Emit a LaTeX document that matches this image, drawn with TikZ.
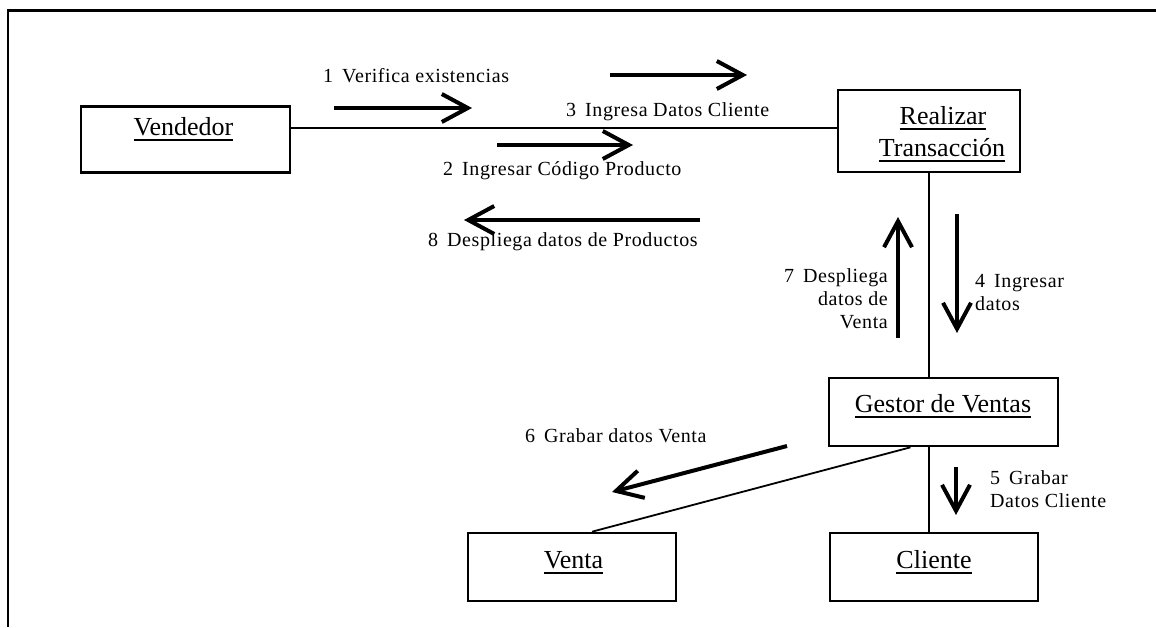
\documentclass[tikz,border=0pt]{standalone}
\usepackage{fontspec}
\setmainfont{Liberation Serif}
\newfontfamily\msgfont[LetterSpace=3]{Liberation Serif}
\usetikzlibrary{arrows.meta}

% underlined object name: a 2pt rule set 4pt below the baseline
\newcommand{\objul}[1]{\setbox0=\hbox{#1}\leavevmode\rlap{\rule[-6pt]{\wd0}{2pt}}\box0}

\tikzset{
  objbox/.style={draw, line width=2.6pt, inner sep=0pt},
  objname/.style={inner sep=0pt, anchor=base, font=\fontsize{26}{30}\selectfont},
  link/.style={line width=2pt},
  msg/.style={line width=4pt, -{Straight Barb[length=26pt, width=28pt]}},
  msgtext/.style={inner sep=0pt, font=\msgfont\fontsize{20}{23}\selectfont},
}

\begin{document}
\begin{tikzpicture}[x=1pt, y=-1pt]
\useasboundingbox (0,0) rectangle (1156,627);

% page frame
\draw[line width=2.5pt] (8,627) -- (8,10.5) -- (1156,10.5);

% objects
\node[objbox, minimum width=209pt, minimum height=66pt] (vend)  at (185.5,139.5) {};
\node[objbox, minimum width=182pt, minimum height=82pt] (real)  at (929,131) {};
\node[objbox, minimum width=229pt, minimum height=68pt] (gest)  at (943.5,412) {};
\node[objbox, minimum width=208pt, minimum height=68pt] (venta) at (572,567) {};
\node[objbox, minimum width=208pt, minimum height=68pt] (cli)   at (934,567) {};

\node[objname] (vendT)  at (183.5,135) {\objul{Vendedor}};
\node[objname] (realT1) at (943,124)   {\objul{Realizar}};
\node[objname] (realT2) at (942,156)   {\objul{Transacción}};
\node[objname] (gestT)  at (943,412)   {\objul{Gestor de Ventas}};
\node[objname] (ventaT) at (573.5,568) {\objul{Venta}};
\node[objname] (cliT)   at (934,568)   {\objul{Cliente}};

% links
\coordinate (rw) at ([yshift=3pt]real.west);
\draw[link] (vend.east |- rw) -- (rw);
\draw[link] (real.south) -- (real.south |- gest.north);
\draw[link] (gest.south -| real.south) -- (cli.north -| real.south);
\draw[line width=1.8pt] ([xshift=-33pt]gest.south) -- ([xshift=20pt]venta.north);

% messages
\coordinate (m1a) at (334,108);  \coordinate (m1b) at (472,108);
\coordinate (m2a) at (497,145);  \coordinate (m2b) at (633,145);
\coordinate (m3a) at (610,75);   \coordinate (m3b) at (747,75);
\coordinate (m4a) at (957,214);  \coordinate (m4b) at (957,333);
\coordinate (m5a) at (956,467);  \coordinate (m5b) at (956,515);
\coordinate (m6a) at (787,446);  \coordinate (m6b) at (612,492);
\coordinate (m7a) at (898,338);  \coordinate (m7b) at (898,217);
\coordinate (m8a) at (700,220);  \coordinate (m8b) at (464,220);

\draw[msg] (m1a) -- (m1b);
\draw[msg] (m2a) -- (m2b);
\draw[msg] (m3a) -- (m3b);
\draw[msg] (m4a) -- (m4b);
\draw[msg] (m5a) -- (m5b);
\draw[msg] (m6a) -- (m6b);
\draw[msg] (m7a) -- (m7b);
\draw[msg] (m8a) -- (m8b);

% message labels (multi-line ones are anchored on their last baseline)
\node[msgtext, anchor=base west] (t1) at (323,82)  {1\hspace{0.45em}Verifica existencias};
\node[msgtext, anchor=base west] (t3) at (566,116) {3\hspace{0.45em}Ingresa Datos Cliente};
\node[msgtext, anchor=base west] (t2) at (443,175) {2\hspace{0.45em}Ingresar Código Producto};
\node[msgtext, anchor=base west] (t8) at (428,246) {8\hspace{0.45em}Despliega datos de Productos};
\node[msgtext, anchor=base east, align=right] (t7) at (888,328)
  {7\hspace{0.45em}Despliega\\datos de\\Venta};
\node[msgtext, anchor=base west, align=left] (t4) at (975,310)
  {4\hspace{0.45em}Ingresar\\datos};
\node[msgtext, anchor=base west] (t6) at (525,442) {6\hspace{0.45em}Grabar datos Venta};
\node[msgtext, anchor=base west, align=left] (t5) at (990,507)
  {5\hspace{0.45em}Grabar\\Datos Cliente};
\end{tikzpicture}
\end{document}
